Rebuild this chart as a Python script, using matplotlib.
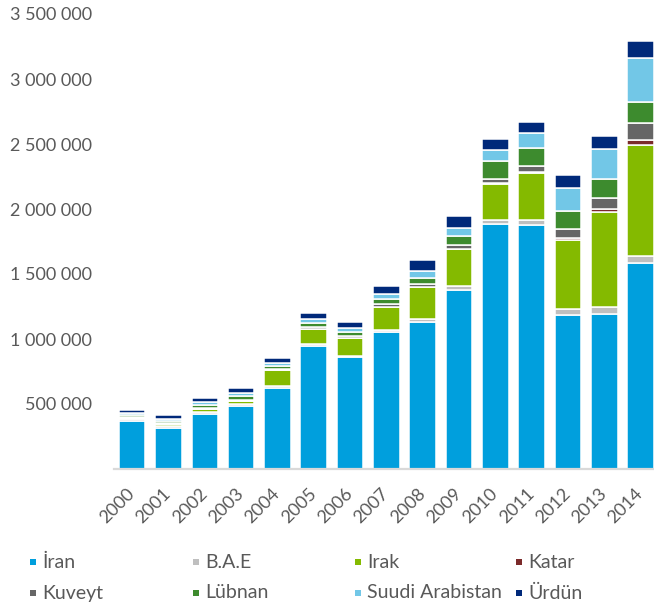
import numpy as np
import matplotlib
matplotlib.use("Agg")
import matplotlib.pyplot as plt
from matplotlib.patches import Rectangle
from matplotlib.ticker import FuncFormatter

plt.rcParams["font.family"] = ["Lato", "DejaVu Sans"]

# yıllara göre ülke dağılımı
years = [str(y) for y in range(2000, 2015)]
countries = ["İran", "B.A.E", "Irak", "Katar",
             "Kuveyt", "Lübnan", "Suudi Arabistan", "Ürdün"]
colors = ["#009FDD", "#BFBFBF", "#84BA00", "#7B2A2A",
          "#666666", "#3D8B2E", "#72C7E7", "#00297A"]

iran = [369, 318, 425, 487, 625, 948, 859, 1052, 1128, 1377, 1883, 1875, 1185, 1196, 1588]
bae = [14, 14, 16, 15, 12, 12, 12, 20, 25, 33, 32, 42, 48, 52, 54]
irak = [12, 13, 18, 22, 121, 118, 138, 172, 245, 283, 281, 362, 526, 729, 854]
katar = [1, 1, 1, 1, 1, 2, 2, 3, 3, 3, 3, 8, 20, 22, 35]
kuveyt = [6, 6, 8, 8, 9, 13, 12, 22, 20, 28, 33, 45, 64, 85, 132]
lubnan = [14, 20, 26, 30, 28, 32, 28, 38, 50, 66, 134, 139, 145, 148, 160]
suudi = [14, 15, 22, 22, 22, 30, 30, 38, 55, 63, 85, 112, 174, 231, 341]
urdun = [24, 28, 30, 36, 36, 45, 50, 60, 80, 90, 88, 88, 98, 100, 128]

series = [iran, bae, irak, katar, kuveyt, lubnan, suudi, urdun]

fig = plt.figure(figsize=(6.54, 6.06), dpi=100)
ax = fig.add_axes([114 / 654, 137 / 606, 540 / 654, 455 / 606])

x = np.arange(len(years))
bottom = np.zeros(len(years))
for vals, col in zip(series, colors):
    v = np.array(vals) * 1000.0
    ax.bar(x, v, width=0.73, bottom=bottom, color=col,
           edgecolor="white", linewidth=1.1)
    bottom += v

ax.set_xlim(-0.5, 14.37)
ax.set_ylim(0, 3500000)
ax.set_yticks(np.arange(500000, 3500001, 500000))
ax.yaxis.set_major_formatter(
    FuncFormatter(lambda v, p: f"{v:,.0f}".replace(",", " ")))

for s in ["top", "right", "left"]:
    ax.spines[s].set_visible(False)
ax.spines["bottom"].set_color("#D9D9D9")
ax.spines["bottom"].set_linewidth(1.6)

ax.tick_params(axis="y", length=0, pad=16, labelsize=13, labelcolor="#595959")
ax.tick_params(axis="x", length=0, pad=16, labelsize=13, labelcolor="#595959")
ax.set_xticks(x)
ax.set_xticklabels(years, rotation=45, ha="right", va="center",
                   rotation_mode="anchor")

# lejant: 4 sütun, 2 satır
col_x = [30, 193, 355, 516]
row_y = [562, 593]
for i, (name, col) in enumerate(zip(countries, colors)):
    px = col_x[i % 4]
    py = row_y[i // 4]
    fig.add_artist(Rectangle((px / 654, (606 - py - 3) / 606), 6 / 654, 6 / 606,
                             transform=fig.transFigure, color=col, lw=0))
    fig.text((px + 12) / 654, (606 - py) / 606, name, fontsize=14,
             color="#595959", va="center", ha="left")

fig.savefig("out.png", dpi=100)
